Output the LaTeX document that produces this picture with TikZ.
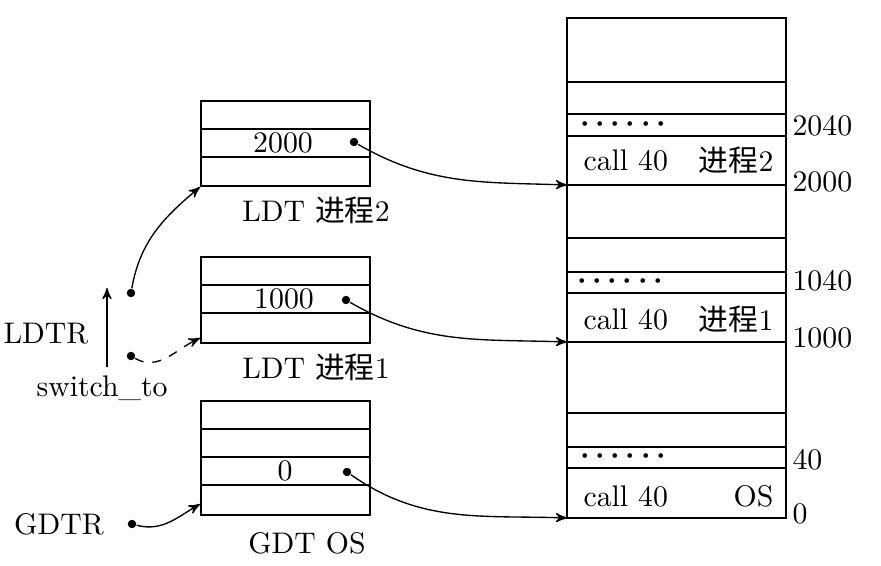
\documentclass[tikz,border=0pt]{standalone}
\usepackage{fontspec}
\newfontfamily\zh{Noto Sans CJK SC}
\usetikzlibrary{arrows, positioning, calc}
\def\u{0.0118cm}

\begin{document}
\begin{tikzpicture}[x=0.0118cm, y=-0.0118cm,
    tab/.style={draw, line width=0.7pt, inner sep=0pt},
    ptr/.style={->, >=stealth', line width=0.45pt},
    dot/.style={circle, fill, inner sep=0pt, minimum size=0.1cm},
    txt/.style={inner sep=1pt},
    etc/.style={inner sep=1pt, font=\boldmath}]
\useasboundingbox (0,0) rectangle (881,566);

% tables
\node[tab, minimum width=169*\u, minimum height=85*\u] (ldt2) at (285.5,143.5) {};
\node[tab, minimum width=169*\u, minimum height=86*\u] (ldt1) at (285.5,300) {};
\node[tab, minimum width=169*\u, minimum height=114*\u] (gdt) at (285.5,458) {};
\draw[line width=0.7pt] (201,129) -- (370,129) (201,157) -- (370,157);
\draw[line width=0.7pt] (201,285) -- (370,285) (201,313) -- (370,313);
\draw[line width=0.7pt] (201,429) -- (370,429) (201,457) -- (370,457) (201,485) -- (370,485);

\node[txt] (v2000) at (283,143) {2000};
\node[txt] (v1000) at (284,299) {1000};
\node[txt] (v0) at (285,471) {0};
\node[dot] (b2) at (354,142) {};
\node[dot] (b1) at (346,300) {};
\node[dot] (b0) at (347,472) {};

\node[txt] (n2) at (316,210) {LDT {\zh 进程}2};
\node[txt] (n1) at (316,367) {LDT {\zh 进程}1};
\node[txt] (n0) at (307,543) {GDT OS};

% memory
\node[tab, minimum width=219*\u, minimum height=500*\u] (mem) at (676.5,268) {};
\foreach \y in {82,114,136,185,238,272,293,342,413,447,468}
    \draw[line width=0.7pt] (567,\y) -- (786,\y);

\node[etc] (d2) at (623,124) {$\cdots\cdots$};
\node[etc] (d1) at (620,281) {$\cdots\cdots$};
\node[etc] (d0) at (623,456) {$\cdots\cdots$};
\node[txt, anchor=west] (c2) at (580,160) {call 40};
\node[txt, anchor=west] (c1) at (580,319) {call 40};
\node[txt, anchor=west] (c0) at (580,496) {call 40};
\node[txt, anchor=east] (p2) at (777,160) {{\zh 进程}2};
\node[txt, anchor=east] (p1) at (777,319) {{\zh 进程}1};
\node[txt, anchor=east] (p0) at (777,496) {OS};

\node[txt, anchor=west] (a2040) at (789,126) {2040};
\node[txt, anchor=west] (a2000) at (789,182) {2000};
\node[txt, anchor=west] (a1040) at (789,281) {1040};
\node[txt, anchor=west] (a1000) at (789,338) {1000};
\node[txt, anchor=west] (a40) at (789,460) {40};
\node[txt, anchor=west] (a0) at (789,514) {0};

\coordinate (m2000) at (567,185);
\coordinate (m1000) at (567,342);
\coordinate (m0) at (567,518);

% registers
\node[txt] (ldtr) at (46,334) {LDTR};
\node[txt] (sw) at (102,388) {switch\_to};
\node[txt] (gdtr) at (59,524) {GDTR};
\node[dot] (r2) at (131,293) {};
\node[dot] (r1) at (131,356) {};
\node[dot] (r0) at (132,524) {};
\coordinate (up0) at (107,367);
\coordinate (up1) at (107,288);

\draw[ptr] (up0) -- (up1);
\draw[ptr] (r2) to[out=80, in=220] (ldt2.south west);
\draw[ptr, dashed] (r1) to[out=-30, in=205] ([yshift=2pt]ldt1.south west);
\draw[ptr] (r0) to[out=-15, in=210] ([yshift=4pt]gdt.south west);

\draw[ptr] (b2) to[out=-30, in=178] (m2000);
\draw[ptr] (b1) to[out=-30, in=178] (m1000);
\draw[ptr] (b0) to[out=-35, in=178] (m0);
\end{tikzpicture}
\end{document}
